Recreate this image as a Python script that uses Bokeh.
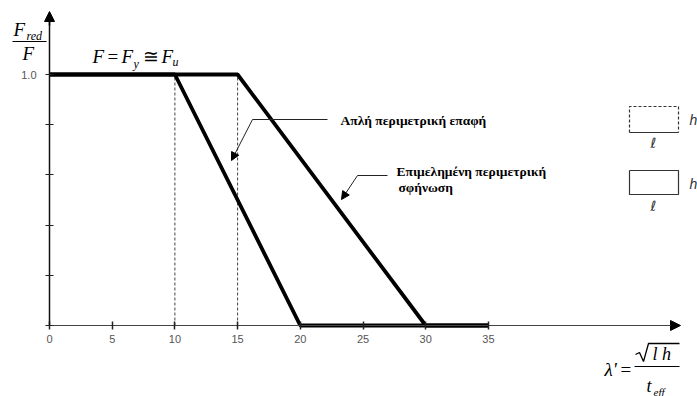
from bokeh.plotting import figure
from bokeh.models import Range1d, LinearAxis, FixedTicker, Arrow, NormalHead, Label
from bokeh.embed import file_html
from bokeh.resources import INLINE

# Reduction factor F_red/F against slenderness lambda'
x_ticks = [0, 5, 10, 15, 20, 25, 30, 35]
y_ticks = [0, 0.2, 0.4, 0.6, 0.8, 1.0]
y_tick_labels = {0: "", 0.2: "", 0.4: "", 0.6: "", 0.8: "", 1: "1.0"}

# Simple perimeter contact
simple_lam = [0, 10, 20, 35]
simple_red = [1.0, 1.0, 0.0, 0.0]
# Carefully executed perimeter wedging
wedged_lam = [0, 15, 30, 35]
wedged_red = [1.0, 1.0, 0.0, 0.0]
# Limit slenderness values (dashed guides)
limit_lam = [10, 15]

W, H = 697, 396
X0, XS = 49, 12.54     # pixel of lambda'=0, pixels per unit
Y0, YS = 325, 251      # pixel of F_red/F=0, pixels per unit


def dx(px):
    return (px - X0) / XS


def dy(py):
    return (Y0 - py) / YS


p = figure(width=W, height=H,
           x_range=Range1d(dx(0), dx(W)), y_range=Range1d(dy(H), dy(0)),
           x_axis_type=None, y_axis_type=None,
           toolbar_location=None, output_backend="svg",
           min_border=0, outline_line_color=None)
p.background_fill_color = "white"
p.border_fill_color = "white"

SANS = "'Liberation Sans', Arial, sans-serif"
SERIF = "'Liberation Serif', 'Times New Roman', serif"

xax = LinearAxis(fixed_location=0, bounds=(0, dx(670)),
                 ticker=FixedTicker(ticks=x_ticks),
                 major_tick_in=4, major_tick_out=4,
                 major_tick_line_color="#222", major_tick_line_width=1.5,
                 minor_tick_line_color=None,
                 axis_line_color="#444", axis_line_width=1.2,
                 major_label_text_font=SANS, major_label_text_font_size="11px",
                 major_label_text_color="#555", major_label_standoff=5)
p.add_layout(xax, "below")

yax = LinearAxis(fixed_location=0, bounds=(0, dy(18)),
                 ticker=FixedTicker(ticks=y_ticks),
                 major_label_overrides=y_tick_labels,
                 major_tick_in=4, major_tick_out=4,
                 major_tick_line_color="#222", major_tick_line_width=1.2,
                 minor_tick_line_color=None,
                 axis_line_color="#111", axis_line_width=1.5,
                 major_label_text_font=SANS, major_label_text_font_size="11px",
                 major_label_text_color="#555", major_label_standoff=9)
p.add_layout(yax, "left")

# axis arrow heads
p.add_layout(Arrow(end=NormalHead(size=10, fill_color="black", line_color="black"),
                   line_color="black", line_width=1.5,
                   x_start=0, y_start=dy(25), x_end=0, y_end=dy(11)))
p.add_layout(Arrow(end=NormalHead(size=10, fill_color="black", line_color="black"),
                   line_color="#444", line_width=1.2,
                   x_start=dx(660), y_start=0, x_end=dx(680), y_end=0))

# dashed guides at the limit slenderness values
p.segment(x0=limit_lam, y0=[0, 0], x1=limit_lam, y1=[1.0, 1.0],
          line_color="#444", line_width=1, line_dash="3 2")

# reduction curves
p.line(simple_lam, simple_red, line_color="black", line_width=3.8)
p.line(wedged_lam, wedged_red, line_color="black", line_width=3.8)

# leader arrows for the curve labels
p.line([dx(327), dx(252)], [dy(119), dy(119)], line_color="#222", line_width=1)
p.add_layout(Arrow(end=NormalHead(size=8, fill_color="black", line_color="black"),
                   line_color="#222", line_width=1,
                   x_start=dx(252), y_start=dy(119), x_end=dx(231), y_end=dy(160)))
p.line([dx(387), dx(357)], [dy(175), dy(175)], line_color="#222", line_width=1)
p.add_layout(Arrow(end=NormalHead(size=8, fill_color="black", line_color="black"),
                   line_color="#222", line_width=1,
                   x_start=dx(357), y_start=dy(175), x_end=dx(341), y_end=dy(199)))


def label(text, px, py, size, font=SERIF, style="normal", align="left", color="black"):
    p.add_layout(Label(x=dx(px), y=dy(py), text=text, text_font=font,
                       text_font_style=style, text_font_size=f"{size}px",
                       text_align=align, text_baseline="middle", text_color=color))


label("Απλή περιμετρική επαφή", 340, 120, 13.5, style="bold")
label("Επιμελημένη περιμετρική", 396, 171, 13.5, style="bold")
label("σφήνωση", 398, 187, 13.5, style="bold")

# y-axis title: F_red / F
label("F", 13, 29, 19, style="italic")
label("red", 26, 35, 12, style="italic")
p.line([dx(12), dx(46)], [dy(41), dy(41)], line_color="black", line_width=1)
label("F", 22, 53, 19, style="italic")

# plateau note: F = F_y ≅ F_u
label("F", 92, 56, 19, style="italic")
label("=", 107, 56, 19)
label("F", 121, 56, 19, style="italic")
label("y", 133, 63, 12, style="italic")
label("≅", 142, 56, 19)
label("F", 161, 56, 19, style="italic")
label("u", 172, 61, 12, style="italic")

# x-axis title: lambda' = sqrt(l h) / t_eff
label("λ'", 604, 369, 19, style="italic")
label("=", 620, 369, 19)
p.line([dx(634), dx(679)], [dy(366), dy(366)], line_color="black", line_width=1)
p.line([dx(635), dx(639), dx(643), dx(648), dx(679)],
       [dy(354), dy(352), dy(361), dy(343), dy(343)], line_color="black", line_width=1.3)
label("l h", 652, 353, 18, style="italic")
label("t", 646, 385, 18, style="italic")
label("eff", 653, 391, 11, style="italic")

# wall panel sketches: open (dashed) and wedged (solid) perimeter
p.line([dx(629), dx(629), dx(678), dx(678)], [dy(132), dy(106), dy(106), dy(132)],
       line_color="#333", line_width=1.2, line_dash="3 2")
p.line([dx(629), dx(678)], [dy(132), dy(132)], line_color="#333", line_width=1.2)
p.line([dx(629), dx(678), dx(678), dx(629), dx(629)],
       [dy(170), dy(170), dy(194), dy(194), dy(170)], line_color="#333", line_width=1.2)
label("h", 689, 119, 14, font=SANS, style="italic", color="#333")
label("h", 689, 183, 14, font=SANS, style="italic", color="#333")
label("ℓ", 653, 142, 14, font="'DejaVu Sans', sans-serif", align="center", color="#333")
label("ℓ", 653, 205, 14, font="'DejaVu Sans', sans-serif", align="center", color="#333")

open("out.html", "w").write(file_html(p, INLINE))
